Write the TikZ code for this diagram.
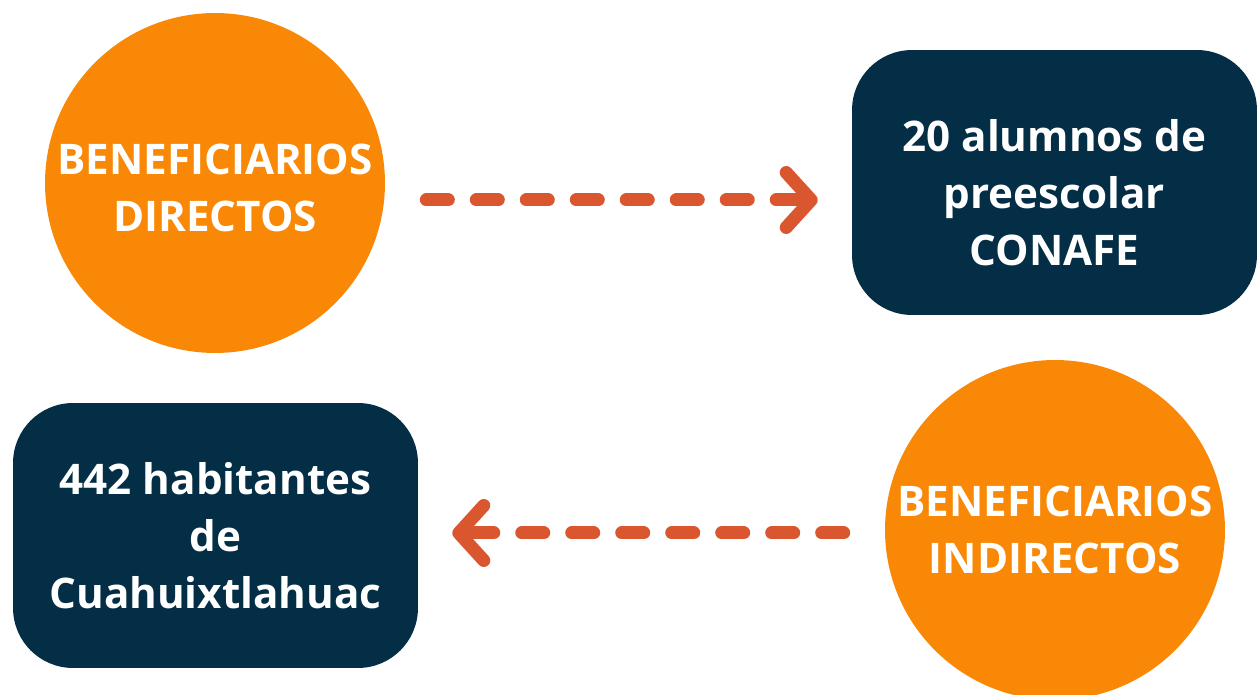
\documentclass[tikz,border=0pt]{standalone}
\usepackage{fontspec}
\setmainfont{Open Sans}
\usetikzlibrary{arrows.meta}
\definecolor{naranja}{RGB}{248,136,5}
\definecolor{marino}{RGB}{3,46,69}
\definecolor{flecha}{RGB}{218,86,46}
\tikzset{
  grupo/.style={circle,fill=naranja,minimum size=6.8cm,inner sep=0pt},
  dato/.style={rectangle,rounded corners=1.2cm,fill=marino,minimum width=8.1cm,
    minimum height=5.3cm,inner sep=0pt},
  letrero/.style={text=white,align=center,inner sep=0pt,
    font=\bfseries\fontsize{24}{32.4}\selectfont},
  flujo/.style={draw=flecha,line width=0.26cm,line cap=round,
    dash pattern=on 0.44cm off 0.56cm,
    -{Straight Barb[length=0.5cm,width=1.1cm,line cap=round,line join=round]}}
}

\begin{document}
\begin{tikzpicture}[x=0.02cm,y=-0.02cm]

\useasboundingbox (0,0) rectangle (1259,695);

\node[grupo,label={[letrero,yshift=-0.1cm]center:BENEFICIARIOS\\DIRECTOS}]
  (directos) at (215,183) {};
\node[dato,label={[letrero,yshift=-0.2cm]center:20 alumnos de\\preescolar\\CONAFE}]
  (alumnos) at (1054.5,182.5) {};

\node[dato,label={[letrero]center:442 habitantes\\de\\Cuahuixtlahuac}]
  (habitantes) at (215.5,535.5) {};
\node[grupo,label={[letrero]center:BENEFICIARIOS\\INDIRECTOS}]
  (indirectos) at (1055,530) {};

% flechas
\coordinate (arriba) at ([yshift=-0.34cm]directos.east);
\coordinate (abajo) at ([yshift=-0.06cm]indirectos.west);
\draw[flujo,shorten <=0.82cm,shorten >=0.68cm] (arriba) -- (arriba -| alumnos.west);
\draw[flujo,shorten <=0.82cm,shorten >=0.68cm] (abajo) -- (abajo -| habitantes.east);
\end{tikzpicture}
\end{document}
